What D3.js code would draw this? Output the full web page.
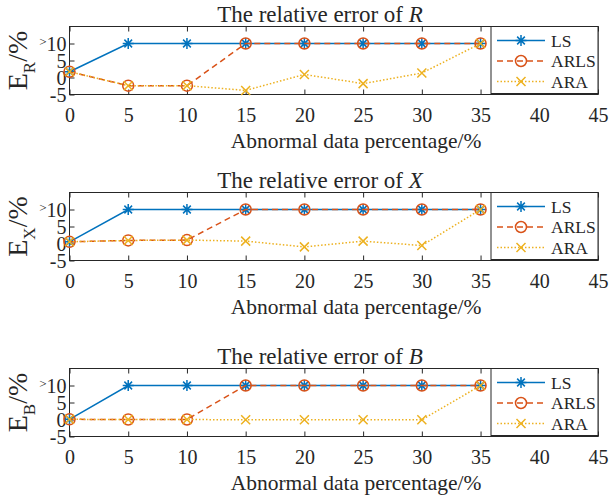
<!DOCTYPE html>
<html>
<head>
<meta charset="utf-8">
<script src="https://cdn.jsdelivr.net/npm/d3@7"></script>
<style>
body { margin: 0; background: #fff; }
text { font-family: "Liberation Serif", "Times New Roman", serif; fill: #262626; }
</style>
</head>
<body>
<div id="chart"></div>
<script>
// Dados

let percent = [0, 5, 10, 15, 20, 25, 30, 35];

let ls_R   = [1.7, 10, 10, 10, 10, 10, 10, 10];
let arls_R = [1.7, -2.4, -2.4, 10, 10, 10, 10, 10];
let ara_R  = [1.7, -2.4, -2.4, -3.8, 0.9, -1.8, 1.3, 10];

let ls_X   = [0.5, 10, 10, 10, 10, 10, 10, 10];
let arls_X = [0.5, 0.9, 1.0, 10, 10, 10, 10, 10];
let ara_X  = [0.5, 0.9, 1.0, 0.7, -1.0, 0.7, -0.6, 10];

let ls_B   = [0.05, 10, 10, 10, 10, 10, 10, 10];
let arls_B = [0.05, 0, 0, 10, 10, 10, 10, 10];
let ara_B  = [0.05, 0, 0, -0.1, -0.1, -0.1, -0.1, 10];

let series_names = ['LS', 'ARLS', 'ARA'];
let panel_vars = ['R', 'X', 'B'];
let x_ticks = [0, 5, 10, 15, 20, 25, 30, 35, 40, 45];
let y_ticks = [-5, 0, 5, 10];
let y_tick_labels = ['-5', '0', '5', '>10'];

let panels = [
    {v: panel_vars[0], series: [ls_R, arls_R, ara_R]},
    {v: panel_vars[1], series: [ls_X, arls_X, ara_X]},
    {v: panel_vars[2], series: [ls_B, arls_B, ara_B]}
];

// Canvas

let width = 613;
let height = 495;
let left = 69.5, right = 598;
let panel_tops = [26.5, 192.5, 368.5];
let panel_h = 68;

let colors = ['#0072BD', '#D95319', '#EDB120'];
let dashes = [null, '6,4', '1.5,2'];

let svg = d3.select('#chart')
    .append('svg')
    .attr('width', width)
    .attr('height', height);

let scala_x = d3.scaleLinear().domain([0, 45]).range([left, right]);

// marcadores

let draw_marker = (g, kind, cx, cy, color) => {
    if (kind === 0) {
        let r = 5.5;
        let p = `M${cx - r},${cy}L${cx + r},${cy}M${cx},${cy - r}L${cx},${cy + r}` +
            `M${cx - r * 0.7},${cy - r * 0.7}L${cx + r * 0.7},${cy + r * 0.7}` +
            `M${cx - r * 0.7},${cy + r * 0.7}L${cx + r * 0.7},${cy - r * 0.7}`;
        g.append('path').attr('d', p).attr('stroke', color).attr('stroke-width', 1.5).attr('fill', 'none');
    } else if (kind === 1) {
        g.append('circle').attr('cx', cx).attr('cy', cy).attr('r', 5.5)
            .attr('stroke', color).attr('stroke-width', 1.5).attr('fill', 'none');
    } else {
        let r = 4.5;
        let p = `M${cx - r},${cy - r}L${cx + r},${cy + r}M${cx - r},${cy + r}L${cx + r},${cy - r}`;
        g.append('path').attr('d', p).attr('stroke', color).attr('stroke-width', 1.5).attr('fill', 'none');
    }
};

// Função para renderizar cada painel

let render_panel = (panel, top) => {
    let bottom = top + panel_h;
    let scala_y = d3.scaleLinear().domain([-5, 15]).range([bottom, top]);
    let g = svg.append('g');

    // eixos
    let ax_b = d3.axisBottom(scala_x).tickValues(x_ticks).tickSizeInner(-5).tickSizeOuter(0).tickPadding(8);
    let gb = g.append('g').attr('transform', `translate(0,${bottom})`).call(ax_b);
    gb.select('.domain').remove();
    gb.selectAll('text').attr('font-size', 20).attr('dy', '0.95em');

    let ax_t = d3.axisTop(scala_x).tickValues(x_ticks).tickSizeInner(-5).tickSizeOuter(0).tickFormat('');
    let gt = g.append('g').attr('transform', `translate(0,${top})`).call(ax_t);
    gt.select('.domain').remove();

    let ax_l = d3.axisLeft(scala_y).tickValues(y_ticks).tickSizeInner(-5).tickSizeOuter(0).tickPadding(3).tickFormat('');
    let gl = g.append('g').attr('transform', `translate(${left},0)`).call(ax_l);
    gl.select('.domain').remove();
    g.selectAll('.tick line').attr('stroke', '#262626');

    // rótulos do eixo y
    g.selectAll('.ylab')
        .data(y_ticks)
        .enter()
        .append('text')
        .attr('class', 'ylab')
        .attr('x', left - 3)
        .attr('y', d => scala_y(d) + 7)
        .attr('text-anchor', 'end')
        .attr('font-size', 20)
        .each(function(d, i) {
            let t = d3.select(this);
            let lab = y_tick_labels[i];
            if (lab[0] === '>') {
                t.append('tspan').attr('font-size', 13).attr('dy', -5).text('>');
                t.append('tspan').attr('dy', 5).text(lab.slice(1));
            } else {
                t.text(lab);
            }
        });

    // caixa
    g.append('rect')
        .attr('x', left).attr('y', top)
        .attr('width', right - left).attr('height', panel_h)
        .attr('fill', 'none').attr('stroke', '#262626').attr('stroke-width', 1);

    // linhas
    let line = d3.line().x((d, i) => scala_x(percent[i])).y(d => scala_y(d));
    panel.series.forEach((s, k) => {
        g.append('path')
            .attr('d', line(s))
            .attr('fill', 'none')
            .attr('stroke', colors[k])
            .attr('stroke-width', 1.5)
            .attr('stroke-dasharray', dashes[k]);
        s.forEach((d, i) => draw_marker(g, k, scala_x(percent[i]), scala_y(d), colors[k]));
    });

    // legenda
    let lx = 491, lw = right - lx;
    g.append('rect')
        .attr('x', lx).attr('y', top).attr('width', lw).attr('height', panel_h - 1)
        .attr('fill', '#fff').attr('stroke', '#262626').attr('stroke-width', 1);
    series_names.forEach((name, k) => {
        let ly = top + 14 + k * 20.5;
        g.append('line')
            .attr('x1', lx + 6).attr('x2', lx + 54)
            .attr('y1', ly).attr('y2', ly)
            .attr('stroke', colors[k]).attr('stroke-width', 1.5)
            .attr('stroke-dasharray', dashes[k]);
        draw_marker(g, k, lx + 30, ly, colors[k]);
        g.append('text')
            .attr('x', lx + 60).attr('y', ly + 6)
            .attr('font-size', 17.5)
            .text(name);
    });

    // título
    let title = g.append('text')
        .attr('x', 320).attr('y', top - 4.5)
        .attr('text-anchor', 'middle')
        .attr('font-size', 23);
    title.append('tspan').text('The relative error of ');
    title.append('tspan').attr('font-style', 'italic').text(panel.v);

    // rótulo x
    g.append('text')
        .attr('x', 356).attr('y', bottom + 53.5)
        .attr('text-anchor', 'middle')
        .attr('font-size', 21.5)
        .text('Abnormal data percentage/%');

    // rótulo y
    let yl = g.append('text')
        .attr('transform', `translate(27,${(top + bottom) / 2}) rotate(-90)`)
        .attr('text-anchor', 'middle')
        .attr('font-size', 28);
    yl.append('tspan').text('E');
    yl.append('tspan').attr('font-size', 17).attr('dy', 8).text(panel.v);
    yl.append('tspan').attr('dy', -8).text('/%');
};

panels.forEach((p, i) => render_panel(p, panel_tops[i]));
</script>
</body>
</html>
